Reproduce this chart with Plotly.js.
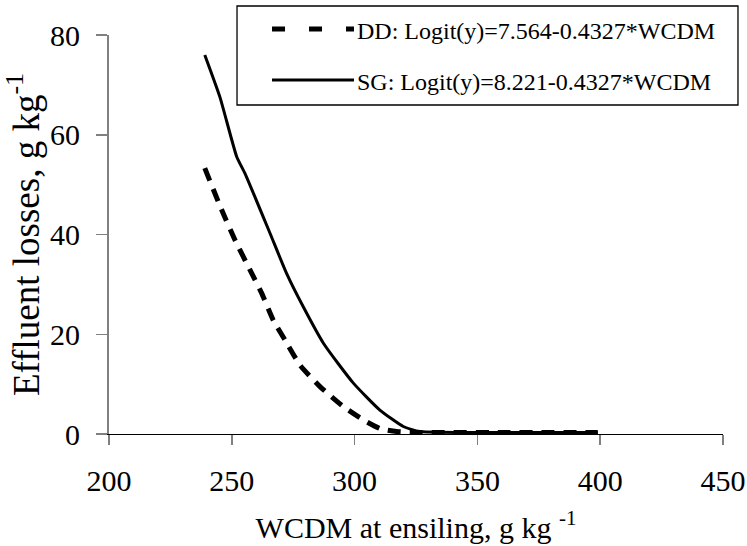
<!DOCTYPE html>
<html>
<head>
<meta charset="utf-8">
<script src="https://cdn.plot.ly/plotly-3.0.1.min.js"></script>
<style>html,body{margin:0;padding:0;background:#fff;}#chart{width:747px;height:546px;}</style>
</head>
<body>
<div id="chart"></div>
<script>
// Data
const xDD = [239, 245.9, 251.3, 257.4, 262.2, 266.9, 271.7, 277.8, 285.9, 295.4, 303.6, 310.3, 317.1, 325, 360, 399];
const yDD = [53.3, 44.9, 38.9, 32.9, 28.2, 22.8, 18.8, 13.8, 9.5, 5.5, 2.8, 1.1, 0.5, 0.3, 0.3, 0.3];
const xSG = [239, 245.2, 252, 255.4, 265.6, 272.3, 279.1, 287.3, 299.5, 310.3, 319.8, 326.6, 360, 399];
const ySG = [76, 67.5, 55.6, 52.2, 40.2, 32.2, 25.5, 18.2, 10.2, 4.8, 1.5, 0.5, 0.3, 0.3];
const seriesNames = ["DD: Logit(y)=7.564-0.4327*WCDM", "SG: Logit(y)=8.221-0.4327*WCDM"];
const xTicks = [200, 250, 300, 350, 400, 450];
const yTicks = [0, 20, 40, 60, 80];

const FONT = "'Liberation Serif', 'Times New Roman', Times, serif";

const traces = [
  {x: xDD, y: yDD, type: "scatter", mode: "lines", name: seriesNames[0],
   line: {color: "#000", width: 5, dash: "13px,9px", shape: "spline", smoothing: 0.5}, showlegend: false},
  {x: xSG, y: ySG, type: "scatter", mode: "lines", name: seriesNames[1],
   line: {color: "#000", width: 3, shape: "spline", smoothing: 0.5}, showlegend: false}
];

const layout = {
  width: 747, height: 546,
  margin: {l: 109, r: 24, t: 35, b: 112},
  paper_bgcolor: "#fff", plot_bgcolor: "#fff",
  font: {family: FONT, color: "#000", size: 29},
  xaxis: {
    range: [200, 450], tickvals: xTicks, ticktext: xTicks.map(String),
    showgrid: false, zeroline: false,
    showline: true, linecolor: "#000", linewidth: 1.3,
    ticks: "outside", ticklen: 10, tickcolor: "#808080", tickwidth: 1.5,
    ticklabelstandoff: 10,
    tickfont: {family: FONT, size: 30, color: "#000"},
    title: {text: "WCDM at ensiling, g kg <sup>-1</sup>", font: {family: FONT, size: 30, color: "#000"}, standoff: 20}
  },
  yaxis: {
    range: [0, 80], tickvals: yTicks, ticktext: yTicks.map(String),
    showgrid: false, zeroline: false,
    showline: true, linecolor: "#808080", linewidth: 2,
    ticks: "outside", ticklen: 11, tickcolor: "#808080", tickwidth: 1.5,
    ticklabelstandoff: 10,
    tickfont: {family: FONT, size: 30, color: "#000"},
    title: {text: "Effluent losses, g kg<sup>-1</sup>", font: {family: FONT, size: 37, color: "#000"}, standoff: 0}
  },
  shapes: [
    {type: "rect", xref: "paper", yref: "paper", x0: 0.2085, x1: 1.0244, y0: 0.8246, y1: 1.0727,
     line: {color: "#000", width: 1.3}, fillcolor: "rgba(0,0,0,0)"},
    {type: "line", xref: "paper", yref: "paper", x0: 0.2655, x1: 0.399, y0: 1.015, y1: 1.015,
     line: {color: "#000", width: 5, dash: "13px,24px"}},
    {type: "line", xref: "paper", yref: "paper", x0: 0.2655, x1: 0.399, y0: 0.8872, y1: 0.8872,
     line: {color: "#000", width: 3}}
  ],
  annotations: [
    {xref: "paper", yref: "paper", x: 0.4007, y: 1.011, xanchor: "left", yanchor: "middle",
     text: seriesNames[0], showarrow: false, font: {family: FONT, size: 24, color: "#000"}},
    {xref: "paper", yref: "paper", x: 0.4007, y: 0.883, xanchor: "left", yanchor: "middle",
     text: seriesNames[1], showarrow: false, font: {family: FONT, size: 24, color: "#000"}}
  ]
};

Plotly.newPlot("chart", traces, layout, {staticPlot: true, displayModeBar: false});
</script>
</body>
</html>
